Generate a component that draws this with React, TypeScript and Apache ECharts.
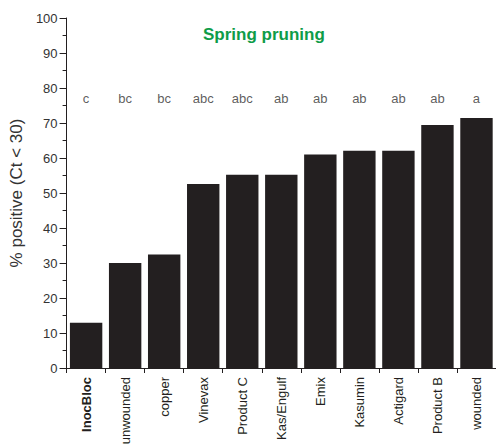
import React, { useEffect, useRef } from "react";
import * as echarts from "echarts";

const categories = ["InocBloc", "unwounded", "copper", "Vinevax", "Product C", "Kas/Engulf", "Emix", "Kasumin", "Actigard", "Product B", "wounded"];
const values = [12.9, 30.0, 32.4, 52.6, 55.2, 55.2, 61.0, 62.1, 62.1, 69.4, 71.4];
const letters = ["c", "bc", "bc", "abc", "abc", "ab", "ab", "ab", "ab", "ab", "a"];
const letterLevel = 77;

export default function App() {
  const ref = useRef<HTMLDivElement>(null);
  useEffect(() => {
    const chart = echarts.init(ref.current!, null, { renderer: "svg" });
    const font = "'Liberation Sans', Arial, sans-serif";
    chart.setOption({
      animation: false,
      textStyle: { fontFamily: font },
      title: {
        text: "Spring pruning",
        left: 198,
        top: 21,
        textStyle: { color: "#0e9c48", fontSize: 17, fontWeight: "bold", fontFamily: font },
      },
      grid: { left: 66, right: -6, top: 18, bottom: 80, containLabel: false },
      xAxis: {
        type: "category",
        data: categories,
        axisLine: { lineStyle: { color: "#231f20", width: 1 } },
        axisTick: { show: true, length: 5, lineStyle: { color: "#231f20" } },
        axisLabel: {
          rotate: 90,
          margin: 9,
          fontSize: 13,
          color: "#231f20",
          fontFamily: font,
          interval: 0,
          formatter: (v: string) => (v === "InocBloc" ? "{b|" + v + "}" : v),
          rich: { b: { fontWeight: "bold", fontSize: 13, color: "#231f20", fontFamily: font } },
        },
        splitLine: { show: false },
      },
      yAxis: {
        type: "value",
        min: 0,
        max: 100,
        interval: 10,
        name: "% positive (Ct < 30)",
        nameLocation: "middle",
        nameGap: 39,
        nameTextStyle: { fontSize: 17, color: "#333", fontFamily: font },
        axisLine: { show: true, lineStyle: { color: "#231f20", width: 1 } },
        axisTick: { show: true, length: 7, lineStyle: { color: "#231f20" } },
        minorTick: { show: true, splitNumber: 2, length: 4, lineStyle: { color: "#231f20" } },
        axisLabel: { fontSize: 13, color: "#333", margin: 9, fontFamily: font },
        splitLine: { show: false },
      },
      series: [
        {
          type: "bar",
          data: values,
          barCategoryGap: "17%",
          itemStyle: { color: "#231f20" },
        },
        {
          type: "scatter",
          data: letters.map(() => letterLevel),
          symbolSize: 1,
          itemStyle: { color: "transparent" },
          label: {
            show: true,
            position: "inside",
            formatter: (p: any) => letters[p.dataIndex],
            fontSize: 13,
            color: "#333",
            fontFamily: font,
          },
        },
      ],
    });
    return () => chart.dispose();
  }, []);
  return (
    <div
      ref={ref}
      style={{ position: "absolute", left: 0, top: 0, width: 496, height: 448, background: "#fff" }}
    />
  );
}
